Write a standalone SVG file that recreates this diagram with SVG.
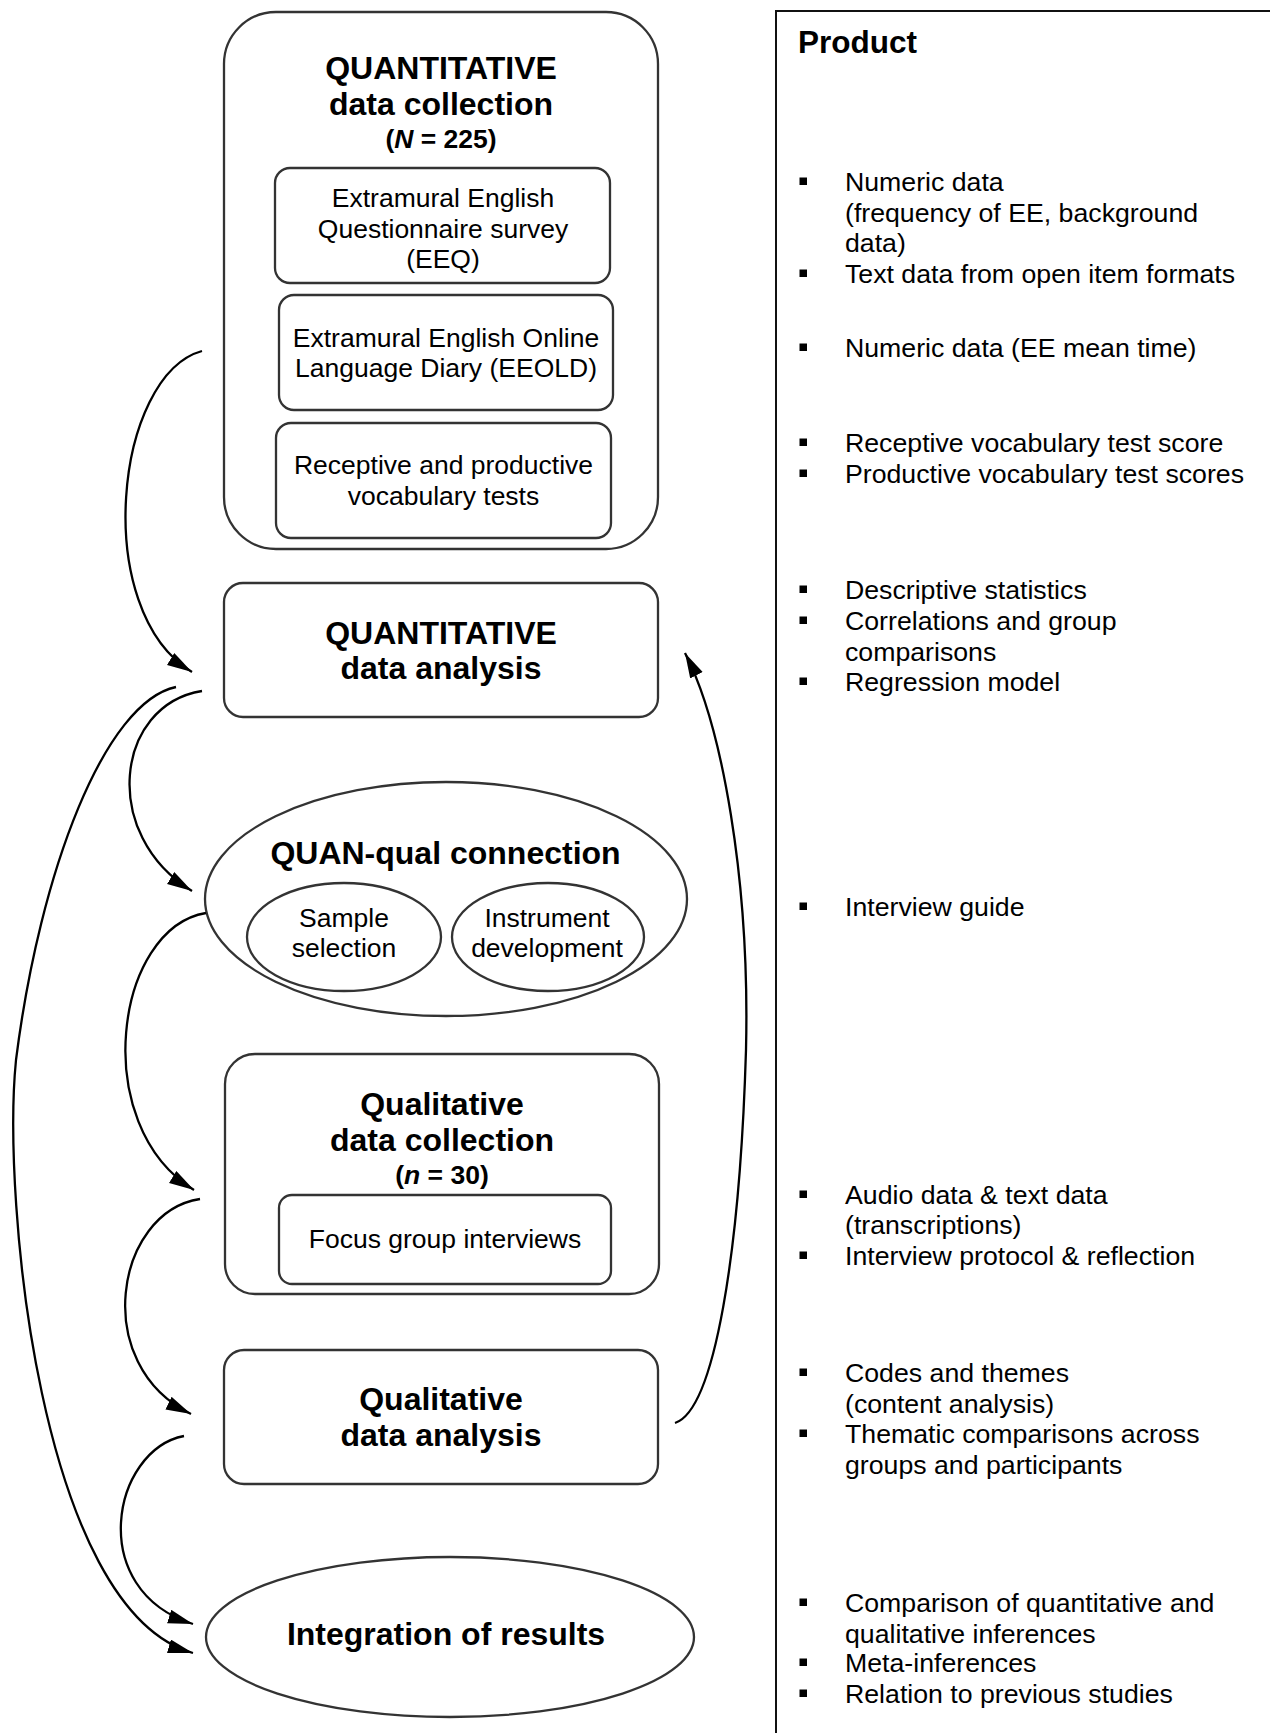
<svg xmlns="http://www.w3.org/2000/svg" width="1270" height="1733" viewBox="0 0 1270 1733">
  <style>
    .box { fill: #ffffff; stroke: #333333; stroke-width: 2.3; }
    .ttl { font-family: "Liberation Sans", Arial, sans-serif; font-weight: bold; font-size: 32px; fill: #000; text-anchor: middle; }
    .sub { font-family: "Liberation Sans", Arial, sans-serif; font-weight: bold; font-size: 26.5px; fill: #000; text-anchor: middle; }
    .txt { font-family: "Liberation Sans", Arial, sans-serif; font-size: 26.5px; fill: #000; text-anchor: middle; }
    .item { font-family: "Liberation Sans", Arial, sans-serif; font-size: 26.7px; fill: #000; }
    .head { font-family: "Liberation Sans", Arial, sans-serif; font-weight: bold; font-size: 31.5px; fill: #000; }
    .conn { fill: none; stroke: #000; stroke-width: 2.3; marker-end: url(#arrow); }
    .bul { fill: #000; }
  </style>
  <defs>
    <marker id="arrow" markerUnits="userSpaceOnUse" markerWidth="28" markerHeight="16" refX="25" refY="7" orient="auto">
      <path d="M0,0 L25,7 L0,14 z" fill="#000"/>
    </marker>
  </defs>

  <rect width="1270" height="1733" fill="#ffffff"/>

  <!-- Quantitative data collection -->
  <g id="quan-collection">
    <rect class="box" x="224" y="12" width="434" height="537" rx="52" ry="52"/>
    <text class="ttl" x="441" y="78.5">QUANTITATIVE</text>
    <text class="ttl" x="441" y="115">data collection</text>
    <text class="sub" x="441" y="148">(<tspan font-style="italic">N</tspan> = 225)</text>
  </g>
  <g id="eeq">
    <rect class="box" x="275" y="168" width="335" height="115" rx="15" ry="15"/>
    <text class="txt" x="443" y="206.5">Extramural English</text>
    <text class="txt" x="443" y="237.5">Questionnaire survey</text>
    <text class="txt" x="443" y="267.5">(EEQ)</text>
  </g>
  <g id="eeold">
    <rect class="box" x="279" y="295" width="334" height="115" rx="15" ry="15"/>
    <text class="txt" x="446" y="346.5">Extramural English Online</text>
    <text class="txt" x="446" y="377">Language Diary (EEOLD)</text>
  </g>
  <g id="vocab-tests">
    <rect class="box" x="276" y="423" width="335" height="115" rx="15" ry="15"/>
    <text class="txt" x="443.5" y="474">Receptive and productive</text>
    <text class="txt" x="443.5" y="505">vocabulary tests</text>
  </g>

  <!-- Quantitative data analysis -->
  <g id="quan-analysis">
    <rect class="box" x="224" y="583" width="434" height="134" rx="19" ry="19"/>
    <text class="ttl" x="441" y="644">QUANTITATIVE</text>
    <text class="ttl" x="441" y="679">data analysis</text>
  </g>

  <!-- QUAN-qual connection -->
  <g id="quan-qual">
    <ellipse class="box" cx="446" cy="899" rx="241" ry="117"/>
    <text class="ttl" x="445.5" y="864">QUAN-qual connection</text>
  </g>
  <g id="sample-selection">
    <ellipse class="box" cx="344" cy="937" rx="97" ry="54"/>
    <text class="txt" x="344" y="927">Sample</text>
    <text class="txt" x="344" y="957">selection</text>
  </g>
  <g id="instrument-dev">
    <ellipse class="box" cx="548" cy="937" rx="96" ry="54"/>
    <text class="txt" x="547" y="927">Instrument</text>
    <text class="txt" x="547" y="957">development</text>
  </g>

  <!-- Qualitative data collection -->
  <g id="qual-collection">
    <rect class="box" x="225" y="1054" width="434" height="240" rx="30" ry="30"/>
    <text class="ttl" x="442" y="1115">Qualitative</text>
    <text class="ttl" x="442" y="1151">data collection</text>
    <text class="sub" x="442" y="1184">(<tspan font-style="italic">n</tspan> = 30)</text>
  </g>
  <g id="focus-groups">
    <rect class="box" x="279" y="1195" width="332" height="89" rx="13" ry="13"/>
    <text class="txt" x="445" y="1248">Focus group interviews</text>
  </g>

  <!-- Qualitative data analysis -->
  <g id="qual-analysis">
    <rect class="box" x="224" y="1350" width="434" height="134" rx="20" ry="20"/>
    <text class="ttl" x="441" y="1410">Qualitative</text>
    <text class="ttl" x="441" y="1446">data analysis</text>
  </g>

  <!-- Integration of results -->
  <g id="integration">
    <ellipse class="box" cx="450" cy="1637" rx="244" ry="80"/>
    <text class="ttl" x="446" y="1645">Integration of results</text>
  </g>

  <!-- Connectors -->
  <g id="connectors">
    <path class="conn" d="M202,351 C115,375 90,610 192,672"/>
    <path class="conn" d="M202,691 C115,705 100,835 192,891"/>
    <path class="conn" d="M206,913 C115,928 88,1125 194,1190"/>
    <path class="conn" d="M200,1199 C115,1212 90,1365 191,1414"/>
    <path class="conn" d="M184,1436 C112,1450 85,1590 193,1624"/>
    <path class="conn" d="M176,687 C105,702 40,870 16,1060 C2,1200 40,1610 193,1653"/>
    <path class="conn" d="M675,1423 C715,1410 740,1250 746,1050 C750,880 722,725 685,653"/>
  </g>

  <!-- Product column -->
  <g id="product">
    <path d="M776,1733 L776,11 L1270,11" fill="none" stroke="#111" stroke-width="2"/>
    <text class="head" x="798" y="52.5">Product</text>

    <rect class="bul" x="799.5" y="177.5" width="7.5" height="7.5"/>
    <text class="item" x="845" y="191">Numeric data</text>
    <text class="item" x="845" y="222">(frequency of EE, background</text>
    <text class="item" x="845" y="252">data)</text>
    <rect class="bul" x="799.5" y="269.5" width="7.5" height="7.5"/>
    <text class="item" x="845" y="283">Text data from open item formats</text>

    <rect class="bul" x="799.5" y="343.5" width="7.5" height="7.5"/>
    <text class="item" x="845" y="357">Numeric data (EE mean time)</text>

    <rect class="bul" x="799.5" y="438.5" width="7.5" height="7.5"/>
    <text class="item" x="845" y="452">Receptive vocabulary test score</text>
    <rect class="bul" x="799.5" y="469.5" width="7.5" height="7.5"/>
    <text class="item" x="845" y="483">Productive vocabulary test scores</text>

    <rect class="bul" x="799.5" y="585.5" width="7.5" height="7.5"/>
    <text class="item" x="845" y="599">Descriptive statistics</text>
    <rect class="bul" x="799.5" y="616.5" width="7.5" height="7.5"/>
    <text class="item" x="845" y="630">Correlations and group</text>
    <text class="item" x="845" y="661">comparisons</text>
    <rect class="bul" x="799.5" y="677.5" width="7.5" height="7.5"/>
    <text class="item" x="845" y="691">Regression model</text>

    <rect class="bul" x="799.5" y="902.5" width="7.5" height="7.5"/>
    <text class="item" x="845" y="916">Interview guide</text>

    <rect class="bul" x="799.5" y="1190.5" width="7.5" height="7.5"/>
    <text class="item" x="845" y="1204">Audio data &amp; text data</text>
    <text class="item" x="845" y="1234">(transcriptions)</text>
    <rect class="bul" x="799.5" y="1251.5" width="7.5" height="7.5"/>
    <text class="item" x="845" y="1265">Interview protocol &amp; reflection</text>

    <rect class="bul" x="799.5" y="1368.5" width="7.5" height="7.5"/>
    <text class="item" x="845" y="1382">Codes and themes</text>
    <text class="item" x="845" y="1413">(content analysis)</text>
    <rect class="bul" x="799.5" y="1429.5" width="7.5" height="7.5"/>
    <text class="item" x="845" y="1443">Thematic comparisons across</text>
    <text class="item" x="845" y="1474">groups and participants</text>

    <rect class="bul" x="799.5" y="1598.5" width="7.5" height="7.5"/>
    <text class="item" x="845" y="1612">Comparison of quantitative and</text>
    <text class="item" x="845" y="1643">qualitative inferences</text>
    <rect class="bul" x="799.5" y="1658.5" width="7.5" height="7.5"/>
    <text class="item" x="845" y="1672">Meta-inferences</text>
    <rect class="bul" x="799.5" y="1689.5" width="7.5" height="7.5"/>
    <text class="item" x="845" y="1703">Relation to previous studies</text>
  </g>
</svg>
